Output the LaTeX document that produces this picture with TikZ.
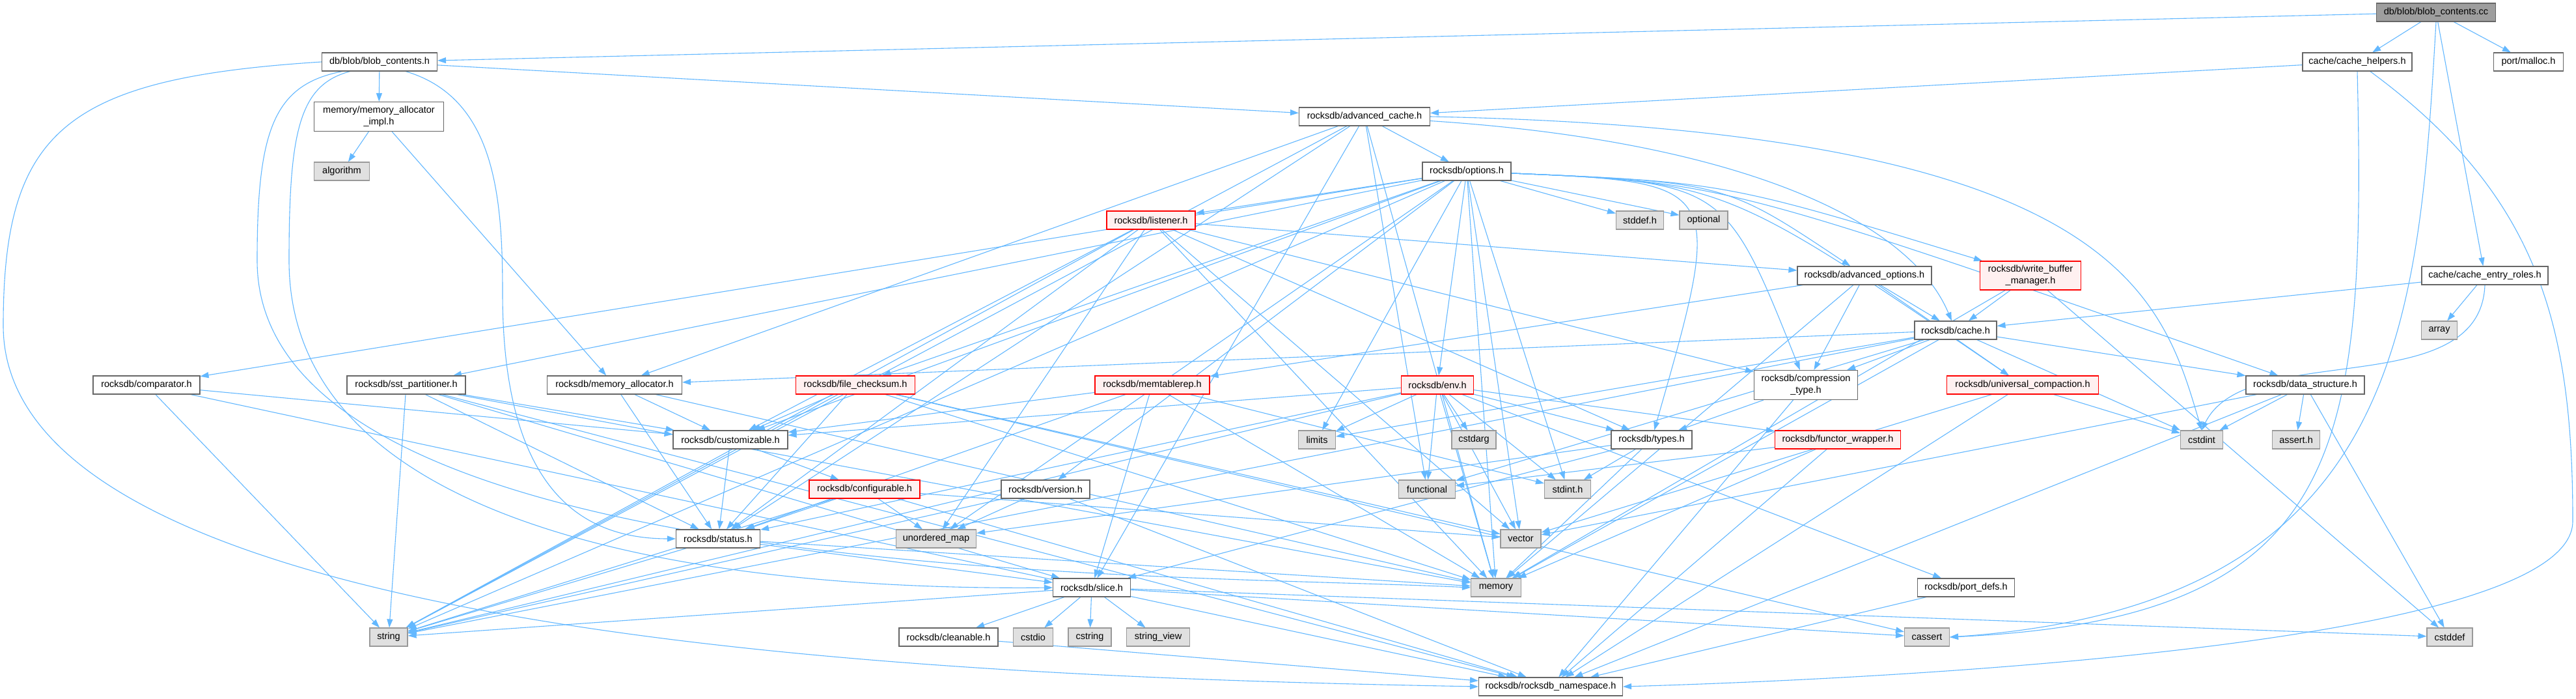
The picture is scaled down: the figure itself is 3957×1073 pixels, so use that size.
\documentclass[tikz,border=0pt]{standalone}
\usepackage{fontspec}
\setmainfont{Liberation Sans}
\usetikzlibrary{arrows.meta}
\definecolor{edgec}{HTML}{63B8FF}
\definecolor{boxb}{HTML}{666666}
\definecolor{sysb}{HTML}{999999}
\definecolor{sysf}{HTML}{E0E0E0}
\definecolor{truncf}{HTML}{FFF0F0}
\definecolor{curf}{HTML}{9E9E9E}
\pgfdeclarelayer{bg}
\pgfsetlayers{bg,main}
\newcommand\mknode[7]{\node[#1, minimum width=#5pt, minimum height=#6pt] (#2) at (#3,#4) {#7};}
\begin{document}
\begin{tikzpicture}[x=1pt,y=-1pt,
  box/.style={draw=boxb, fill=white, line width=1.1pt, inner sep=0pt, font=\fontsize{14.5}{18}\selectfont, align=center},
  sys/.style={box, draw=sysb, fill=sysf},
  trunc/.style={box, draw=red, fill=truncf},
  cur/.style={box, draw=boxb, fill=curf},
  e/.style={draw=edgec, line width=1.1pt, -{Triangle[length=13pt,width=9pt]}}]
\useasboundingbox (0,0) rectangle (3957,1073);
% nodes
\mknode{cur}{cc}{3742}{19}{183}{28}{db/blob/blob\_contents.cc}
\mknode{box}{bch}{583}{95}{177}{28}{db/blob/blob\_contents.h}
\mknode{box}{impl}{582}{179}{199}{45}{memory/memory\_allocator\\\_impl.h}
\mknode{sys}{algorithm}{525}{263}{85}{28}{algorithm}
\mknode{box}{acache}{2096}{179}{201}{28}{rocksdb/advanced\_cache.h}
\mknode{box}{options}{2253}{263}{136}{28}{rocksdb/options.h}
\mknode{trunc}{listener}{1768}{338}{136}{28}{rocksdb/listener.h}
\mknode{sys}{stddef}{2519}{338}{73}{28}{stddef.h}
\mknode{sys}{optional}{2617}{338}{74}{28}{optional}
\mknode{box}{helpers}{3621}{95}{168}{28}{cache/cache\_helpers.h}
\mknode{box}{malloc}{3884}{95}{107}{28}{port/malloc.h}
\mknode{box}{comparator}{225}{591}{164}{28}{rocksdb/comparator.h}
\mknode{box}{sstpart}{624}{591}{182}{28}{rocksdb/sst\_partitioner.h}
\mknode{box}{memalloc}{944}{591}{207}{28}{rocksdb/memory\_allocator.h}
\mknode{trunc}{filecksum}{1314}{591}{183}{28}{rocksdb/file\_checksum.h}
\mknode{trunc}{memtablerep}{1770}{591}{176}{28}{rocksdb/memtablerep.h}
\mknode{box}{customizable}{1122}{675}{176}{28}{rocksdb/customizable.h}
\mknode{box}{advopts}{2864}{423}{206}{28}{rocksdb/advanced\_options.h}
\mknode{box}{cache}{3004}{507}{126}{28}{rocksdb/cache.h}
\mknode{box}{comptype}{2774}{591}{159}{45}{rocksdb/compression\\\_type.h}
\mknode{trunc}{env}{2208}{591}{111}{28}{rocksdb/env.h}
\mknode{sys}{limits}{2023}{675}{57}{28}{limits}
\mknode{sys}{cstdarg}{2264}{675}{68}{28}{cstdarg}
\mknode{box}{types}{2537}{675}{124}{28}{rocksdb/types.h}
\mknode{trunc}{functor}{2823}{675}{193}{28}{rocksdb/functor\_wrapper.h}
\mknode{trunc}{wbm}{3119}{423}{155}{44}{rocksdb/write\_buffer\\\_manager.h}
\mknode{box}{roles}{3817}{423}{194}{28}{cache/cache\_entry\_roles.h}
\mknode{sys}{array}{3747}{507}{55}{28}{array}
\mknode{trunc}{univ}{3107}{591}{233}{28}{rocksdb/universal\_compaction.h}
\mknode{box}{datastruct}{3541}{591}{182}{28}{rocksdb/data\_structure.h}
\mknode{sys}{cstdint}{3382}{675}{65}{28}{cstdint}
\mknode{sys}{asserth}{3527}{675}{73}{28}{assert.h}
\mknode{sys}{string}{597}{978}{58}{28}{string}
\mknode{trunc}{configurable}{1328}{751}{170}{28}{rocksdb/configurable.h}
\mknode{box}{version}{1606}{751}{136}{28}{rocksdb/version.h}
\mknode{box}{status}{1103}{827}{129}{28}{rocksdb/status.h}
\mknode{sys}{umap}{1438}{827}{123}{28}{unordered\_map}
\mknode{box}{slice}{1677}{902}{119}{28}{rocksdb/slice.h}
\mknode{box}{cleanable}{1457}{978}{152}{28}{rocksdb/cleanable.h}
\mknode{sys}{cstdio}{1587}{978}{61}{28}{cstdio}
\mknode{sys}{cstring}{1674}{978}{66}{28}{cstring}
\mknode{sys}{stringview}{1779}{978}{97}{28}{string\_view}
\mknode{sys}{functional}{2192}{751}{87}{28}{functional}
\mknode{sys}{stdint}{2408}{751}{71}{28}{stdint.h}
\mknode{sys}{vector}{2336}{827}{62}{28}{vector}
\mknode{sys}{memory}{2298}{902}{77}{28}{memory}
\mknode{sys}{cassert}{2960}{978}{69}{28}{cassert}
\mknode{box}{ns}{2382}{1054}{221}{28}{rocksdb/rocksdb\_namespace.h}
\mknode{box}{portdefs}{3020}{902}{149}{28}{rocksdb/port\_defs.h}
\mknode{sys}{cstddef}{3763}{978}{70}{28}{cstddef}
% edges
\begin{pgfonlayer}{bg}
\fill[white] (0,0) rectangle (3957,1073);
\foreach \s/\t in {
 cc/bch, cc/helpers, cc/malloc, cc/roles,
 bch/impl, bch/acache,
 impl/algorithm, impl/memalloc,
 helpers/acache,
 roles/array, roles/cache,
 acache/options, acache/memalloc, acache/functional, acache/memory, acache/string, acache/slice, acache/status,
 options/stddef, options/optional, options/stdint, options/limits, options/memory, options/string, options/umap, options/vector, options/comparator, options/customizable, options/env, options/filecksum, options/listener, options/sstpart, options/version,
 advopts/memory, advopts/cache, advopts/comptype, advopts/memtablerep, advopts/univ,
 cache/cstdint, cache/functional, cache/limits, cache/memory, cache/string, cache/comptype, cache/datastruct, cache/memalloc,
 listener/memory, listener/string, listener/umap, listener/vector, listener/advopts, listener/comptype, listener/customizable, listener/status, listener/types,
 env/stdint, env/cstdarg, env/functional, env/limits, env/memory, env/string, env/vector, env/customizable, env/functor, env/portdefs, env/status, env/types,
 functor/functional, functor/memory, functor/ns,
 types/stdint, types/memory, types/umap, types/slice,
 comptype/ns, comptype/types,
 datastruct/asserth, datastruct/cstddef, datastruct/cstdint, datastruct/vector, datastruct/ns,
 univ/cstdint, univ/vector, univ/ns,
 wbm/cstddef, wbm/memory, wbm/cache,
 memtablerep/customizable, memtablerep/slice, memtablerep/stdint, memtablerep/memory, memtablerep/status,
 filecksum/cassert, filecksum/memory, filecksum/string, filecksum/vector, filecksum/customizable, filecksum/status,
 comparator/string, comparator/customizable, comparator/ns,
 sstpart/memory, sstpart/string, sstpart/customizable, sstpart/ns, sstpart/slice, sstpart/status,
 memalloc/memory, memalloc/customizable, memalloc/status,
 customizable/configurable, customizable/status,
 configurable/string, configurable/umap, configurable/vector, configurable/ns, configurable/status,
 version/string, version/umap, version/ns,
 status/memory, status/string, status/slice,
 slice/cassert, slice/cstddef, slice/cstdio, slice/cstring, slice/string, slice/stringview, slice/cleanable,
 cleanable/ns, portdefs/ns}
 {\draw[e] (\s) -- (\t);}
% options edges bending above stddef/optional
\foreach \t in {advopts, comptype, datastruct, univ, wbm, types}
 {\draw[e] (options) .. controls (2650,280) .. (\t);}
% advanced_cache edges to the right
\draw[e] (acache) .. controls (2650,215) and (2930,330) .. (cache);
\draw[e] (acache.east) .. controls (3250,200) and (3320,450) .. (cstdint.north);
\draw[e] (cc.south) .. controls (3715,500) and (3690,930) .. (cassert.east);
\draw[e] (helpers.south) .. controls (3635,700) and (3600,950) .. (cassert.east);
\draw[e] (helpers) .. controls (3900,300) and (3952,500) .. (3952,800) .. controls (3952,1000) and (2800,1045) .. (ns.east);
\draw[e] (roles.south) .. controls (3810,620) and (3450,520) .. (cstdint.north);
\draw[e] (bch.west) .. controls (100,120) and (5,200) .. (5,500) .. controls (5,990) and (1500,1040) .. (ns.west);
\draw[e] ([xshift=-57pt]bch.south) .. controls (420,130) and (395,200) .. (395,400) .. controls (395,900) and (1800,880) .. (memory.west);
\draw[e] ([xshift=-45pt]bch.south) .. controls (460,130) and (444,200) .. (444,400) .. controls (444,880) and (1300,905) .. (slice.west);
\draw[e] ([xshift=40pt]bch.south) .. controls (760,150) and (772,300) .. (772,450) .. controls (772,760) and (900,827) .. (status.west);
\end{pgfonlayer}
\end{tikzpicture}
\end{document}
